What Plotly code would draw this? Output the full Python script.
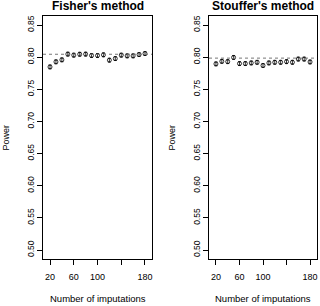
import plotly.graph_objects as go

imputations = [20, 30, 40, 50, 60, 70, 80, 90, 100, 110, 120, 130, 140, 150, 160, 170, 180]
fisher_power = [0.7848, 0.7927, 0.7958, 0.8047, 0.8031, 0.8045, 0.8047, 0.8025, 0.8025, 0.8036,
                0.7953, 0.7978, 0.8031, 0.8020, 0.8020, 0.8040, 0.8056]
fisher_err = [0.003] * 17
stouffer_power = [0.7895, 0.7935, 0.7930, 0.7995, 0.7900, 0.7900, 0.7910, 0.7920, 0.7870, 0.7910,
                  0.7920, 0.7920, 0.7930, 0.7920, 0.7970, 0.7970, 0.7925]
stouffer_err = [0.003] * 17
fisher_ref = 0.8045
stouffer_ref = 0.7985
titles = ["Fisher's method", "Stouffer's method"]
xtick_vals = [20, 60, 100, 140, 180]
xtick_text = ["20", "60", "100", "", "180"]
ytick_vals = [0.50, 0.55, 0.60, 0.65, 0.70, 0.75, 0.80, 0.85]
ytick_text = ["0.50", "0.55", "0.60", "0.65", "0.70", "0.75", "0.80", "0.85"]

W, H = 320, 306
top, bottom = 16, 259
doms = [(43, 152), (209, 317)]

FONT = "Liberation Sans, Arial, Helvetica, sans-serif"

fig = go.Figure()
series = [(fisher_power, fisher_err, fisher_ref), (stouffer_power, stouffer_err, stouffer_ref)]
for i, (vals, errs, ref) in enumerate(series):
    xa = "x" if i == 0 else "x2"
    ya = "y" if i == 0 else "y2"
    fig.add_trace(go.Scatter(
        x=imputations, y=vals, mode="markers", xaxis=xa, yaxis=ya,
        marker=dict(symbol="circle-open", size=4, color="black", line=dict(width=0.8, color="black")),
        error_y=dict(type="data", array=errs, visible=True, color="black", thickness=0.8, width=1.5),
        showlegend=False, hoverinfo="skip"))
    fig.add_shape(type="line", xref=f"{xa} domain", yref=ya, x0=0, x1=1, y0=ref, y1=ref,
                  line=dict(color="#777777", width=1, dash="dot"))

axis_common = dict(showline=True, linecolor="black", linewidth=1, mirror=True,
                   ticks="outside", ticklen=5, tickwidth=1, tickcolor="black",
                   showgrid=False, zeroline=False, automargin=False,
                   tickfont=dict(family=FONT, size=9, color="black"))
for i in range(2):
    x0, x1 = doms[i]
    sfx = "" if i == 0 else "2"
    fig.update_layout(**{
        f"xaxis{sfx}": dict(axis_common, domain=[x0 / W, x1 / W], range=[8.2, 191.8],
                            tickvals=xtick_vals, ticktext=xtick_text, anchor=f"y{sfx}",
                            ticklabelstandoff=4),
        f"yaxis{sfx}": dict(axis_common, domain=[0, 1], range=[0.486, 0.864],
                            tickvals=ytick_vals, ticktext=ytick_text, tickangle=-90,
                            anchor=f"x{sfx}",
                            tickfont=dict(family=FONT, size=8.5, color="black")),
    })
    cx = (x0 + x1) / 2 / W
    fig.add_annotation(text=f"<b>{titles[i]}</b>", xref="paper", yref="paper", x=cx, y=1 + 10.5 / (bottom - top),
                       xanchor="center", yanchor="middle", showarrow=False,
                       font=dict(family=FONT, size=12, color="black"))
    fig.add_annotation(text="Number of imputations", xref="paper", yref="paper", x=cx,
                       y=-39 / (bottom - top), xanchor="center", yanchor="middle", showarrow=False,
                       font=dict(family=FONT, size=9.5, color="black"))
    fig.add_annotation(text="Power", xref="paper", yref="paper", x=(x0 - 38) / W,
                       y=0.5, xanchor="center", yanchor="middle", showarrow=False, textangle=-90,
                       font=dict(family=FONT, size=9, color="black"))

fig.update_layout(width=W, height=H, margin=dict(l=0, r=0, t=top, b=H - bottom),
                  paper_bgcolor="white", plot_bgcolor="white")
fig.write_html("out.html", config={"displayModeBar": False},
               post_script="document.body.style.margin='0';")
